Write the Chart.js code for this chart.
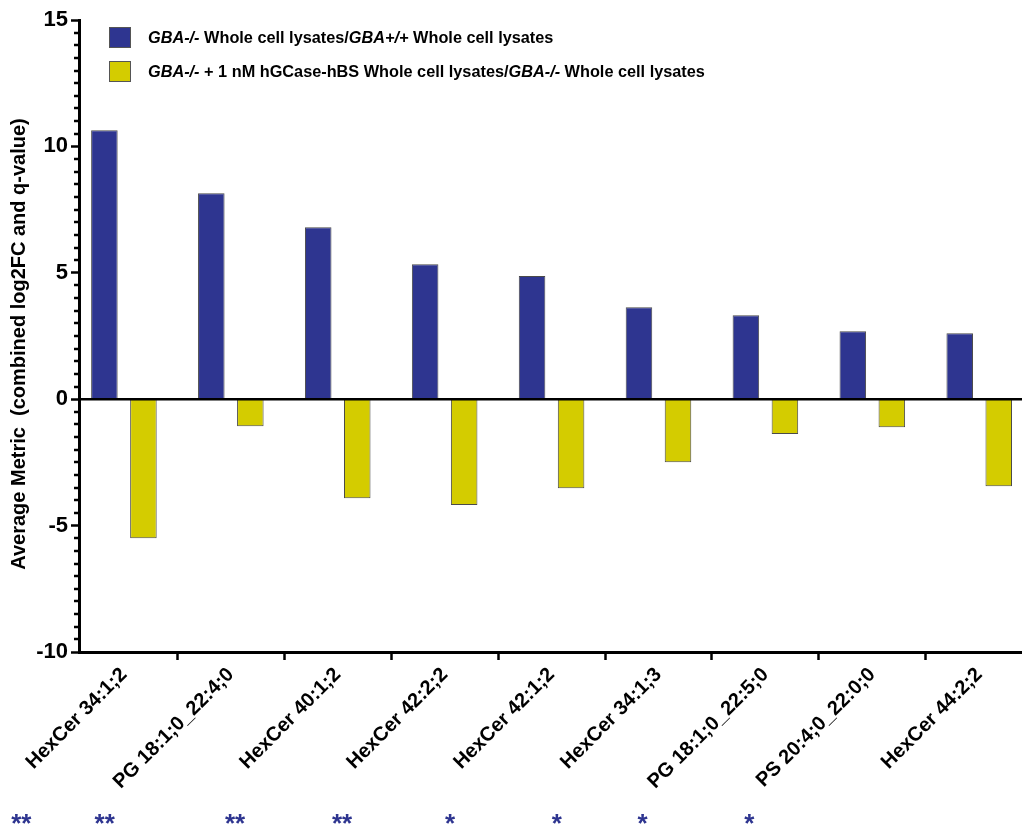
<!DOCTYPE html>
<html>
<head>
<meta charset="utf-8">
<script src="https://cdn.jsdelivr.net/npm/chart.js@4/dist/chart.umd.min.js"></script>
<style>
  html, body { margin: 0; padding: 0; background: #fff; overflow: hidden; }
  #wrap { position: relative; width: 1022px; height: 828px; }
  #legend { position: absolute; left: 109px; top: 27px; font-family: "Liberation Sans", Arial, sans-serif; font-weight: bold; font-size: 16.3px; color: #000; }
  .row { display: flex; align-items: center; height: 21px; margin-bottom: 13px; white-space: nowrap; }
  .box { width: 22px; height: 21px; box-sizing: border-box; border: 1px solid #555; margin-right: 17px; flex: none; }
</style>
</head>
<body>
<div id="wrap">
  <canvas id="c" width="1022" height="828"></canvas>
  <div id="legend">
    <div class="row"><div class="box" style="background:#2e3590"></div><span><i>GBA-/-</i> Whole cell lysates/<i>GBA+/+</i> Whole cell lysates</span></div>
    <div class="row"><div class="box" style="background:#d4cc00"></div><span><i>GBA-/-</i> + 1 nM hGCase-hBS Whole cell lysates/<i>GBA-/-</i> Whole cell lysates</span></div>
  </div>
</div>
<script>
const categories = ["HexCer 34:1;2", "PG 18:1;0_22:4;0", "HexCer 40:1;2", "HexCer 42:2;2", "HexCer 42:1;2", "HexCer 34:1;3", "PG 18:1;0_22:5;0", "PS 20:4;0_22:0;0", "HexCer 44:2;2"];
const seriesKO = [10.64, 8.15, 6.80, 5.34, 4.87, 3.64, 3.32, 2.69, 2.61];
const seriesTreated = [-5.50, -1.07, -3.92, -4.19, -3.52, -2.49, -1.38, -1.11, -3.44];
const seriesLabels = ["GBA-/- Whole cell lysates/GBA+/+ Whole cell lysates", "GBA-/- + 1 nM hGCase-hBS Whole cell lysates/GBA-/- Whole cell lysates"];
const yTitle = "Average Metric  (combined log2FC and q-value)";
const yMin = -10, yMax = 15, yMajorStep = 5, yMinorStep = 0.5;
const significance = ["**", "**", "**", "**", "*", "*", "*", "*"];
const significancePos = [-0.96, -0.18, 1.04, 2.04, 3.05, 4.05, 4.85, 5.85];

const FONT = "'Liberation Sans', Arial, sans-serif";

const decorations = {
  id: 'decorations',
  afterDatasetsDraw(chart) {
    const {ctx, chartArea, scales} = chart;
    const x0 = scales.y.right;
    ctx.save();
    // minor ticks
    ctx.strokeStyle = '#000';
    ctx.lineWidth = 2.5;
    for (let v = yMin; v <= yMax + 1e-9; v += yMinorStep) {
      if (Math.abs(v / yMajorStep - Math.round(v / yMajorStep)) < 1e-9) continue;
      const py = Math.round(scales.y.getPixelForValue(v));
      ctx.beginPath();
      ctx.moveTo(x0 - 5, py);
      ctx.lineTo(x0, py);
      ctx.stroke();
    }
    // zero line
    const pz = scales.y.getPixelForValue(0);
    ctx.lineWidth = 2.5;
    ctx.beginPath();
    ctx.moveTo(chartArea.left, pz);
    ctx.lineTo(chartArea.right, pz);
    ctx.stroke();
    // y axis title
    ctx.save();
    ctx.translate(19.5, (chartArea.top + chartArea.bottom) / 2 + 8);
    ctx.rotate(-Math.PI / 2);
    ctx.fillStyle = '#000';
    ctx.font = 'bold 20px ' + FONT;
    ctx.textAlign = 'center';
    ctx.textBaseline = 'middle';
    ctx.fillText(yTitle, 0, 0);
    ctx.restore();
    // significance marks
    ctx.fillStyle = '#2e3590';
    ctx.font = 'bold 26px ' + FONT;
    ctx.textAlign = 'center';
    ctx.textBaseline = 'alphabetic';
    significance.forEach((s, i) => {
      ctx.fillText(s, scales.x.getPixelForValue(significancePos[i]), 832);
    });
    ctx.restore();
  }
};

new Chart(document.getElementById('c'), {
  type: 'bar',
  data: {
    datasets: [
      {
        label: seriesLabels[0],
        data: seriesKO.map((v, i) => ({x: i, y: v})),
        backgroundColor: '#2e3590',
        borderColor: '#4a4a4a',
        borderWidth: 1,
        barPercentage: 0.68,
        categoryPercentage: 0.73
      },
      {
        label: seriesLabels[1],
        data: seriesTreated.map((v, i) => ({x: i, y: v})),
        backgroundColor: '#d4cc00',
        borderColor: '#4a4a4a',
        borderWidth: 1,
        barPercentage: 0.68,
        categoryPercentage: 0.73
      }
    ]
  },
  options: {
    responsive: false,
    animation: false,
    devicePixelRatio: 1,
    layout: { padding: { top: 20, right: 0, bottom: 0, left: 0 } },
    plugins: { legend: { display: false }, tooltip: { enabled: false } },
    scales: {
      x: {
        type: 'linear',
        min: -0.42,
        max: 8.4,
        offset: false,
        afterFit: s => { s.height = 176; },
        ticks: {
          stepSize: 1,
          includeBounds: false,
          autoSkip: false,
          maxRotation: 45,
          minRotation: 45,
          padding: 3,
          color: '#000',
          font: { family: FONT, size: 20, weight: 'bold' },
          callback: v => Number.isInteger(v) ? categories[v] : ''
        },
        grid: { drawOnChartArea: false, tickLength: 8, tickWidth: 2.5, tickColor: '#000' },
        border: { width: 3, color: '#000' }
      },
      y: {
        min: yMin,
        max: yMax,
        afterFit: s => { s.width = 79; },
        ticks: {
          stepSize: yMajorStep,
          padding: 3,
          color: '#000',
          font: { family: FONT, size: 22, weight: 'bold' }
        },
        grid: { drawOnChartArea: false, tickLength: 8, tickWidth: 2.5, tickColor: '#000' },
        border: { width: 3, color: '#000' },
        title: { display: false }
      }
    }
  },
  plugins: [decorations]
});
</script>
</body>
</html>
